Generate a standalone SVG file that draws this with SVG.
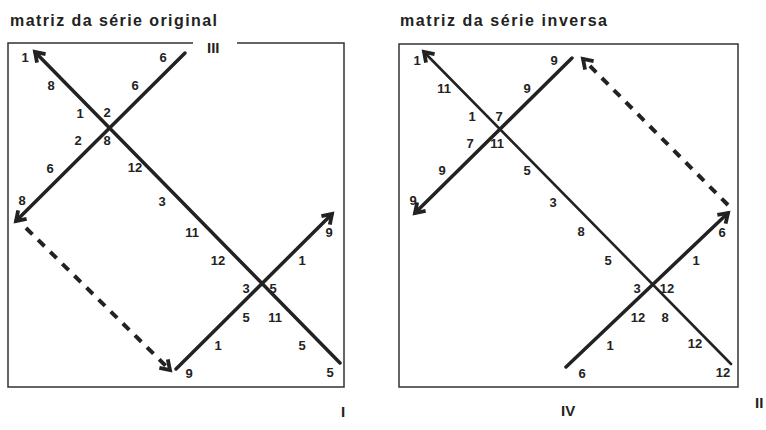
<svg xmlns="http://www.w3.org/2000/svg" width="766" height="430" viewBox="0 0 766 430">
<style>
  .title { font-family: "Liberation Sans", Arial, sans-serif; font-weight: bold; font-size: 16px; fill: #222; }
  .roman { font-family: "Liberation Sans", Arial, sans-serif; font-weight: bold; font-size: 15px; fill: #222; }
  .n { font-family: "Liberation Sans", Arial, sans-serif; font-weight: bold; font-size: 13px; fill: #222; text-anchor: middle; dominant-baseline: central; }
  .box { fill: none; stroke: #333; stroke-width: 1.5; }
  .ln { fill: none; stroke: #222; stroke-width: 3.5; stroke-linecap: round; }
  .thin { stroke-width: 2.6; }
  .dash { fill: none; stroke: #222; stroke-width: 4; stroke-dasharray: 9 8; }
</style>
<defs>
  <marker id="arr" markerUnits="userSpaceOnUse" markerWidth="16" markerHeight="16" refX="12" refY="8" orient="auto" overflow="visible">
    <path d="M3,2 L12,8 L3,14" fill="none" stroke="#222" stroke-width="3.8" stroke-linejoin="miter"/>
  </marker>
</defs>
<rect width="766" height="430" fill="#fff"/>

<g id="panel-original">
  <text class="title" x="10" y="26" textLength="207" lengthAdjust="spacing">matriz da série original</text>
  <path class="box" d="M193,43 L8,43 L8,387 L344,387 L344,43 L237,43"/>
  <text class="roman" x="207" y="53">III</text>
  <text class="roman" x="341" y="417">I</text>
</g>

<g id="panel-inversa">
  <text class="title" x="400" y="26" textLength="207" lengthAdjust="spacing">matriz da série inversa</text>
  <rect class="box" x="399" y="44" width="339" height="343"/>
  <text class="roman" x="561" y="416">IV</text>
  <text class="roman" x="755" y="408">II</text>
</g>

<g id="connectors">
  <!-- left panel -->
  <line class="ln" x1="340" y1="363" x2="35" y2="52" marker-end="url(#arr)"/>
  <line class="ln" x1="185" y1="53" x2="16" y2="221" marker-end="url(#arr)"/>
  <line class="ln" x1="176" y1="369" x2="332" y2="214" marker-end="url(#arr)"/>
  <line class="dash" x1="26" y1="228" x2="170" y2="370" marker-end="url(#arr)"/>
  <!-- right panel -->
  <line class="ln thin" x1="731" y1="364" x2="424" y2="52" marker-end="url(#arr)"/>
  <line class="ln" x1="572" y1="58" x2="415" y2="213" marker-end="url(#arr)"/>
  <line class="ln" x1="566" y1="367" x2="728" y2="213" marker-end="url(#arr)"/>
  <line class="dash" x1="728" y1="205" x2="583" y2="59" marker-end="url(#arr)"/>
</g>

<g id="labels-original">
  <text class="n" x="25" y="57">1</text>
  <text class="n" x="163" y="57">6</text>
  <text class="n" x="51" y="85">8</text>
  <text class="n" x="135" y="85">6</text>
  <text class="n" x="80" y="113">1</text>
  <text class="n" x="107" y="112">2</text>
  <text class="n" x="78" y="140">2</text>
  <text class="n" x="107" y="140">8</text>
  <text class="n" x="50" y="168">6</text>
  <text class="n" x="135" y="167">12</text>
  <text class="n" x="22" y="200">8</text>
  <text class="n" x="162" y="201">3</text>
  <text class="n" x="192" y="232">11</text>
  <text class="n" x="329" y="232">9</text>
  <text class="n" x="218" y="260">12</text>
  <text class="n" x="302" y="260">1</text>
  <text class="n" x="246" y="288">3</text>
  <text class="n" x="273" y="288">5</text>
  <text class="n" x="246" y="317">5</text>
  <text class="n" x="275" y="317">11</text>
  <text class="n" x="218" y="345">1</text>
  <text class="n" x="302" y="345">5</text>
  <text class="n" x="189" y="373">9</text>
  <text class="n" x="330" y="372">5</text>
</g>

<g id="labels-inversa">
  <text class="n" x="417" y="60">1</text>
  <text class="n" x="554" y="60">9</text>
  <text class="n" x="444" y="88">11</text>
  <text class="n" x="527" y="88">9</text>
  <text class="n" x="472" y="116">1</text>
  <text class="n" x="499" y="116">7</text>
  <text class="n" x="470" y="143">7</text>
  <text class="n" x="497" y="143">11</text>
  <text class="n" x="442" y="170">9</text>
  <text class="n" x="527" y="170">5</text>
  <text class="n" x="413" y="200">9</text>
  <text class="n" x="553" y="202">3</text>
  <text class="n" x="581" y="231">8</text>
  <text class="n" x="722" y="232">6</text>
  <text class="n" x="608" y="260">5</text>
  <text class="n" x="696" y="260">1</text>
  <text class="n" x="637" y="288">3</text>
  <text class="n" x="667" y="288">12</text>
  <text class="n" x="638" y="317">12</text>
  <text class="n" x="665" y="317">8</text>
  <text class="n" x="610" y="345">1</text>
  <text class="n" x="695" y="343">12</text>
  <text class="n" x="582" y="373">6</text>
  <text class="n" x="723" y="372">12</text>
</g>
</svg>
